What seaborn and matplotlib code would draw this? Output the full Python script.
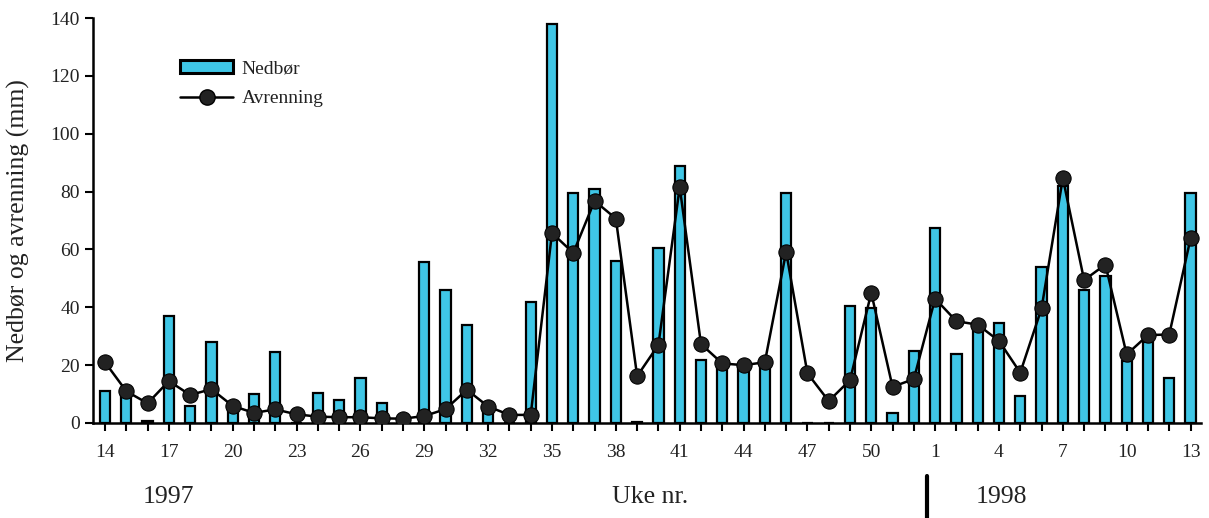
import numpy as np
import pandas as pd
import matplotlib
matplotlib.use("Agg")
import matplotlib.pyplot as plt
from matplotlib.lines import Line2D
from matplotlib.patches import Patch
import seaborn as sns

weeks = list(range(14, 53)) + list(range(1, 14))
nedbor = [11, 10, 0.7, 37, 6, 28, 5, 10, 24.5, 0, 10.5, 8, 15.5, 7, 0,
          55.5, 46, 34, 6, 0, 42, 138, 79.5, 81, 56, 0.5, 60.5, 89, 21.8, 19.5,
          19.5, 20, 79.5, 0, 0, 40.4, 39.7, 3.4, 25,
          67.5, 23.8, 33, 34.5, 9.3, 54, 82, 46, 51, 21.4, 28, 15.6, 79.5]
avrenning = [21, 11, 6.8, 14.5, 9.7, 11.7, 5.9, 3.5, 4.7, 3, 2.2, 2, 2, 1.6, 1.5,
             2.4, 4.8, 11.5, 5.7, 2.8, 2.8, 65.7, 58.8, 76.8, 70.7, 16.2, 27, 81.6, 27.3, 20.6,
             20, 21, 59.2, 17.2, 7.6, 14.8, 45, 12.5, 15.2,
             43, 35.2, 34, 28.4, 17.4, 39.6, 84.7, 49.4, 54.8, 23.7, 30.4, 30.6, 63.8]
yticks = [0, 20, 40, 60, 80, 100, 120, 140]

df = pd.DataFrame({"pos": np.arange(len(weeks)), "week": weeks,
                   "Nedbør": nedbor, "Avrenning": avrenning})

sns.set_theme(style="ticks")
plt.rcParams["font.family"] = ["Liberation Serif", "DejaVu Serif"]

fig = plt.figure(figsize=(12.09, 5.18), dpi=100)
ax = fig.add_axes([0.077, 0.1834, 0.916, 0.7816])

bar_color = "#3fc6e6"
sns.barplot(data=df, x="pos", y="Nedbør", native_scale=True, width=0.48,
            color=bar_color, edgecolor="black", linewidth=1.6, saturation=1,
            ax=ax, zorder=2)
sns.lineplot(data=df, x="pos", y="Avrenning", color="black", linewidth=1.8,
             marker="o", markersize=11, markerfacecolor="#222222",
             markeredgecolor="black", ax=ax, zorder=3)

ax.set_xlim(-0.56, 51.47)
ax.set_ylim(0, 140)
ax.set_yticks(yticks)
ax.set_yticklabels([str(v) for v in yticks])
ax.set_xticks(df["pos"][::3])
ax.set_xticklabels([str(w) for w in df["week"][::3]])
ax.set_xticks(df["pos"], minor=True)
ax.tick_params(axis="both", which="major", labelsize=14, direction="out",
               length=6, width=1.5, color="black", labelcolor="#222222")
ax.tick_params(axis="x", which="minor", direction="out", length=6, width=1.5, color="black")
ax.tick_params(axis="x", pad=9)
for s in ["top", "right"]:
    ax.spines[s].set_visible(False)
for s in ["left", "bottom"]:
    ax.spines[s].set_linewidth(1.8)
    ax.spines[s].set_color("black")
ax.set_xlabel("")
ax.set_ylabel("Nedbør og avrenning (mm)", fontsize=18.5, color="#222222", labelpad=15)

handles = [Patch(facecolor=bar_color, edgecolor="black", linewidth=2.2),
           Line2D([], [], color="black", linewidth=1.8, marker="o", markersize=11,
                  markerfacecolor="#222222", markeredgecolor="black")]
leg = ax.legend(handles, ["Nedbør", "Avrenning"], loc="upper left",
                bbox_to_anchor=(0.063, 0.94), frameon=False, fontsize=14,
                handlelength=2.7, handleheight=0.65, handletextpad=0.45,
                labelspacing=0.65)
for t in leg.get_texts():
    t.set_color("#222222")

fig.text(0.139, 0.04, "1997", fontsize=18.5, ha="center", va="center", color="#222222")
fig.text(0.538, 0.04, "Uke nr.", fontsize=18.5, ha="center", va="center", color="#222222")
fig.text(0.828, 0.04, "1998", fontsize=18.5, ha="center", va="center", color="#222222")
fig.add_artist(Line2D([927 / 1209, 927 / 1209], [0.0, 1 - 476 / 518],
                      color="black", linewidth=3, transform=fig.transFigure))

fig.savefig("out.png", dpi=100)
